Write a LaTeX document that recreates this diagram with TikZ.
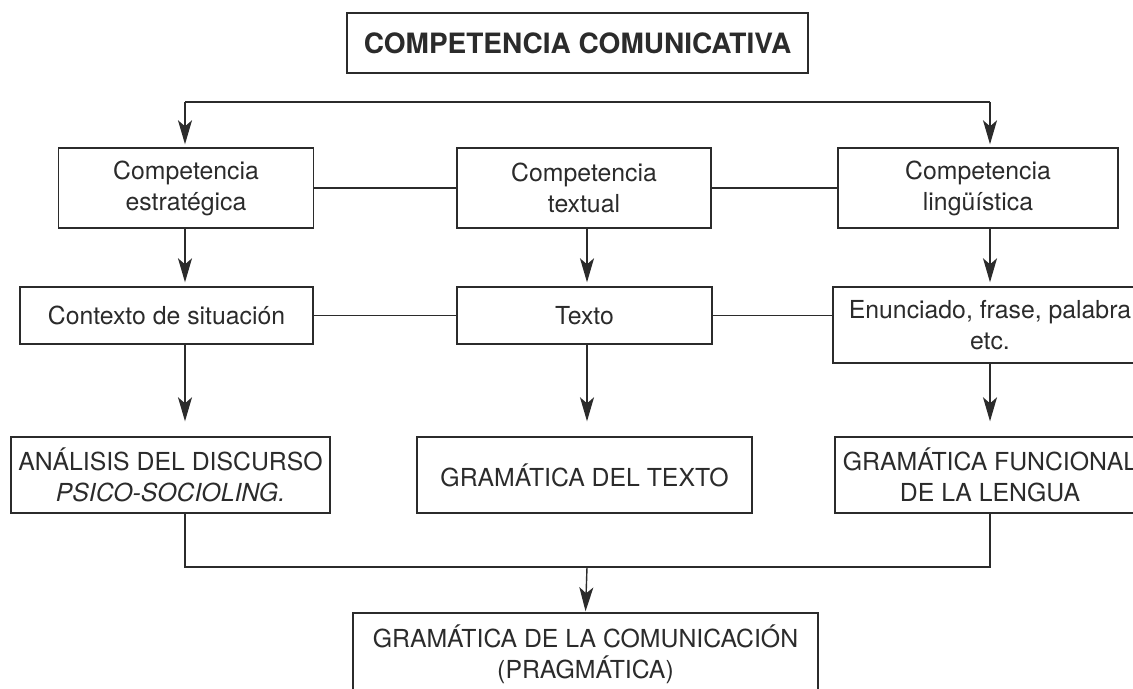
\documentclass[tikz,border=0pt]{standalone}
\usepackage{fontspec}
\setmainfont{TeX Gyre Heros}
\usetikzlibrary{arrows.meta}
\definecolor{ink}{HTML}{2B2B2B}
\begin{document}
\begin{tikzpicture}[x=0.5pt,y=-0.5pt,
  box/.style={draw=ink, line width=0.7pt, text=ink, align=center, inner sep=0pt,
    font=\fontsize{12.4}{15.5}\selectfont},
  titlebox/.style={box, font=\fontsize{14}{17}\selectfont\bfseries},
  link/.style={draw=ink, line width=0.7pt},
  arr/.style={link, -{Stealth[length=12pt,width=7pt,inset=3pt]}}]
\useasboundingbox (0,0) rectangle (1133,689);
\clip (0,0) rectangle (1133,689);
% title
\node[titlebox, minimum width=230.5pt, minimum height=30pt] (title) at (577.5,43) {COMPETENCIA COMUNICATIVA};
% row 1
\node[box, minimum width=127.5pt, minimum height=40pt] (estr) at (186,188) {Competencia\\estratégica};
\node[box, minimum width=127pt, minimum height=40pt] (ctext) at (584,188) {Competencia\\textual};
\node[box, minimum width=140pt, minimum height=40pt] (ling) at (978,188) {Competencia\\lingüística};
% row 2
\node[box, minimum width=146.5pt, minimum height=28.5pt] (ctx) at (166.5,315.5) {Contexto de situación};
\node[box, minimum width=127.5pt, minimum height=28.5pt] (texto) at (584.5,315.5) {Texto};
\node[box, minimum width=157pt, minimum height=38pt] (enun) at (990,325) {Enunciado, frase, palabra\\etc.};
% row 3
\node[box, minimum width=159.5pt, minimum height=38pt] (anal) at (170.5,475) {ANÁLISIS DEL DISCURSO\\\textit{PSICO-SOCIOLING.}};
\node[box, minimum width=167.5pt, minimum height=38pt] (gtext) at (584.5,475) {GRAMÁTICA DEL TEXTO};
\node[box, minimum width=155pt, minimum height=38pt] (func) at (990,475) {GRAMÁTICA FUNCIONAL\\DE LA LENGUA};
% bottom
\node[box, minimum width=232.5pt, minimum height=41pt] (prag) at (585.5,654) {GRAMÁTICA DE LA COMUNICACIÓN\\(PRAGMÁTICA)};
% column coordinates
\coordinate (tL) at (185,102);
\coordinate (tR) at (990,102);
\coordinate (cM) at (587,102);
\coordinate (bL) at (185,567);
\coordinate (bM) at (587,567);
\coordinate (bR) at (990,567);
% top connector
\draw[link] (tL) -- (tR);
\draw[arr, shorten >=1.5pt] (tL) -- (tL |- estr.north);
\draw[arr, shorten >=1.5pt] (tR) -- (tR |- ling.north);
% horizontal links
\draw[link] (estr.east) -- (ctext.west);
\draw[link] (ctext.east) -- (ling.west);
\draw[link] (ctx.east) -- (texto.west);
\draw[link] (texto.east) -- (texto.east -| enun.west);
% row 1 -> row 2
\draw[arr, shorten >=2pt] (estr.south -| tL) -- (tL |- ctx.north);
\draw[arr, shorten >=2pt] (ctext.south -| cM) -- (cM |- texto.north);
\draw[arr, shorten >=2pt] (ling.south -| tR) -- (tR |- enun.north);
% row 2 -> row 3
\draw[arr, shorten >=7.5pt] (ctx.south -| tL) -- (tL |- anal.north);
\draw[arr, shorten >=7.5pt] (texto.south -| cM) -- (cM |- gtext.north);
\draw[arr, shorten >=7.5pt] (enun.south -| tR) -- (tR |- func.north);
% bottom connector
\draw[link] (anal.south -| bL) -- (bL) -- (bR) -- (func.south -| bR);
\draw[arr, shorten >=0.5pt] (bM) -- (prag.north);
\end{tikzpicture}
\end{document}
